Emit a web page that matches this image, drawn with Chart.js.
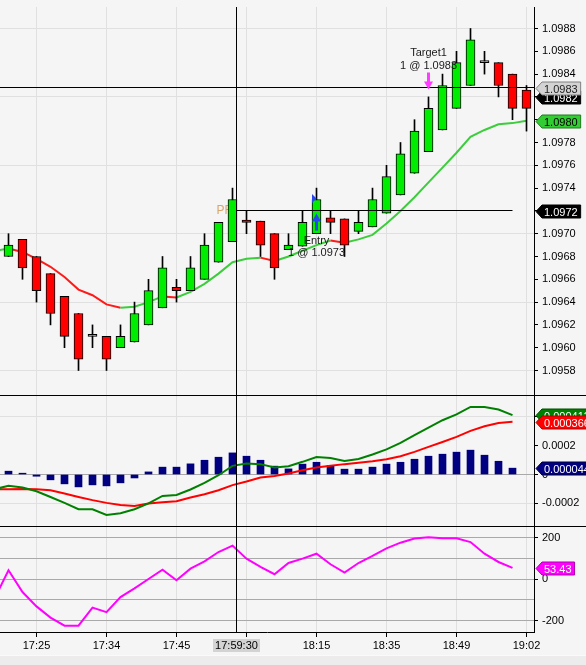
<!DOCTYPE html>
<html>
<head>
<meta charset="utf-8">
<title>EURUSD candles with MACD and CCI</title>
<script src="https://cdn.jsdelivr.net/npm/chart.js@4.4.1/dist/chart.umd.min.js"></script>
<style>
  html, body { margin: 0; padding: 0; background: #f5f5f5; }
  #wrap { position: relative; width: 586px; height: 665px; overflow: hidden; }
  #strip { position: absolute; left: 0; top: 655px; width: 586px; height: 10px; background: #ececec; border-top: 1px solid #fafafa; }
  .pane { position: absolute; left: 0; width: 586px; }
  #pricePane { top: 0; height: 396px; }
  #macdPane { top: 396px; height: 131px; }
  #cciPane { top: 527px; height: 138px; }
</style>
</head>
<body>
<div id="wrap">
  <div id="strip"></div>
  <div class="pane" id="pricePane"><canvas id="priceChart"></canvas></div>
  <div class="pane" id="macdPane"><canvas id="macdChart"></canvas></div>
  <div class="pane" id="cciPane"><canvas id="cciChart"></canvas></div>
</div>
<script>
// bar 0 = first full candle on screen, indicator series start one bar earlier (bar -1)
const tickBars = [2, 7, 12, 17, 22, 27, 32, 37];
const timeLabels = ['17:25', '17:34', '17:45', '', '18:15', '18:35', '18:49', '19:02'];

const priceTicks = [1.0958, 1.0960, 1.0962, 1.0964, 1.0966, 1.0968, 1.0970, 1.0972,
  1.0974, 1.0976, 1.0978, 1.0980, 1.0982, 1.0984, 1.0986, 1.0988];
const macdTicks = [-0.0002, 0, 0.0002, 0.0004];
const cciTicks = [-200, -100, 0, 100, 200];

const openP = [1.0968, 1.09695, 1.0968, 1.09665, 1.09645, 1.0963, 1.0961, 1.0961, 1.0960, 1.09605,
  1.0962, 1.09635, 1.09653, 1.0965, 1.0966, 1.09675, 1.09693, 1.09712, 1.09711, 1.0970,
  1.09686, 1.09689, 1.0970, 1.09714, 1.09713, 1.09702, 1.09706, 1.09718, 1.09734, 1.09753,
  1.09772, 1.09791, 1.0981, 1.0983, 1.0985, 1.0985, 1.0984, 1.09826];
const highP = [1.0970, 1.09695, 1.0968, 1.09665, 1.09645, 1.0963, 1.0962, 1.0961, 1.0962, 1.0964,
  1.0966, 1.0968, 1.0966, 1.0968, 1.0970, 1.0971, 1.0974, 1.0972, 1.09711, 1.0970,
  1.0970, 1.0972, 1.0974, 1.0972, 1.09713, 1.0972, 1.0974, 1.0976, 1.0978, 1.0980,
  1.0982, 1.0984, 1.0986, 1.0988, 1.0986, 1.0985, 1.0984, 1.0983];
const lowP = [1.0968, 1.0966, 1.0964, 1.0962, 1.0960, 1.0958, 1.0960, 1.0958, 1.0960, 1.09605,
  1.0962, 1.09635, 1.0964, 1.0965, 1.0966, 1.09675, 1.09693, 1.0970, 1.0968, 1.0966,
  1.09686, 1.09689, 1.0970, 1.0970, 1.0968, 1.0970, 1.09706, 1.09718, 1.09734, 1.09753,
  1.09772, 1.09791, 1.0981, 1.0983, 1.0984, 1.0982, 1.0980, 1.0979];
const closeP = [1.0969, 1.0967, 1.0965, 1.0963, 1.0961, 1.0959, 1.0961, 1.0959, 1.0961, 1.0963,
  1.0965, 1.0967, 1.0965, 1.0967, 1.0969, 1.0971, 1.0973, 1.0971, 1.0969, 1.0967,
  1.0969, 1.0971, 1.0973, 1.0971, 1.0969, 1.0971, 1.0973, 1.0975, 1.0977, 1.0979,
  1.0981, 1.0983, 1.0985, 1.0987, 1.0985, 1.0983, 1.0981, 1.0981];

// moving average, from bar -1 to bar 37
const maLine = [1.09685, 1.09687, 1.09684, 1.09678, 1.09671, 1.09662, 1.09651, 1.09646, 1.09638, 1.09635,
  1.09636, 1.0964, 1.09645, 1.09644, 1.09649, 1.09656, 1.09665, 1.09675, 1.09678, 1.09679,
  1.09676, 1.0968, 1.09685, 1.0969, 1.09694, 1.09692, 1.09695, 1.09699, 1.09709, 1.0972,
  1.09732, 1.09745, 1.09758, 1.09771, 1.09785, 1.09791, 1.09796, 1.09797, 1.09799];

// MACD / signal / CCI from bar -1 to bar 36, histogram from bar 0 to bar 36
const macdLine = [-0.000102, -0.000079, -0.00009, -0.000116, -0.000156, -0.000197, -0.000241, -0.000241, -0.000281, -0.000269,
  -0.000241, -0.000201, -0.000149, -0.000142, -0.000104, -0.000058, -0.000005, 0.00006, 0.000076, 0.000072,
  0.000049, 0.000058, 0.000088, 0.000122, 0.000115, 0.000094, 0.000108, 0.000139, 0.000174, 0.000219,
  0.000273, 0.000326, 0.000377, 0.000417, 0.000469, 0.000469, 0.000451, 0.000412];
const signalLine = [-0.000104, -0.000102, -0.0001, -0.000102, -0.000109, -0.000132, -0.000156, -0.000178, -0.000197, -0.000211,
  -0.000218, -0.000201, -0.000192, -0.000185, -0.00016, -0.000137, -0.000109, -0.000074, -0.000049, -0.000021,
  -0.00001, 0.000007, 0.00003, 0.000049, 0.00006, 0.000072, 0.000081, 0.000092, 0.000106, 0.000127,
  0.000157, 0.000192, 0.000226, 0.000261, 0.000303, 0.000335, 0.000358, 0.000366];
const histogram = [0.000023, 0.000009, -0.000012, -0.000037, -0.000065, -0.000086, -0.000072, -0.000079, -0.000058, -0.000024,
  0.000018, 0.000051, 0.000051, 0.000074, 0.000099, 0.00012, 0.00015, 0.000127, 0.000099, 0.000058,
  0.000039, 0.000072, 0.000085, 0.000062, 0.000037, 0.000037, 0.000051, 0.000072, 0.000085, 0.000106,
  0.000127, 0.000141, 0.000155, 0.000169, 0.000134, 0.000092, 0.000044];
const cciLine = [-94, 42, -63, -132, -186, -225, -225, -138, -160, -87,
  -45, 0, 45, -6, 50, 85, 130, 161, 98, 58,
  23, 77, 98, 122, 71, 31, 77, 111, 148, 175,
  195, 201, 196, 196, 178, 122, 82, 53.43];

// crosshair and drawing objects
const crossBar = 16.2857;
const crossTime = '17:59:30';
const crossPrice = 1.09828;
const lastPrice = 1.0982;
const prLevel = 1.0972;
const prEndBar = 36;
const entryBar = 22, entryPrice = 1.0973;
const targetBar = 30, targetPrice = 1.0983;

const upColor = '#00ec00', downColor = '#ff0000';
const maUp = '#3ccd3c', maDown = '#ff1a1a';
const gridColor = '#e0e0e0', levelColor = '#a9a9a9';
const FONT = '"Liberation Sans", Arial, sans-serif';

Chart.defaults.font.family = FONT;
Chart.defaults.font.size = 11;
Chart.defaults.color = '#000';

const xMin = -8.5 / 14, xMax = (534 - 8.5) / 14;

function xScale(showLabels) {
  return {
    type: 'linear', min: xMin, max: xMax, offset: false,
    grid: { color: gridColor, offset: false, drawTicks: showLabels, tickLength: 5, tickColor: '#000' },
    border: { display: showLabels, color: '#000' },
    ticks: {
      display: showLabels, padding: 2, autoSkip: false, maxRotation: 0,
      callback: v => { const k = tickBars.indexOf(v); return k < 0 ? '' : timeLabels[k]; }
    },
    afterBuildTicks: s => { s.ticks = tickBars.map(v => ({ value: v })); },
    afterFit: s => { s.height = showLabels ? 33 : 0; s.paddingLeft = 0; s.paddingRight = 0; }
  };
}

function yScale(min, max, values, gridFn, labelFn, tickColorFn) {
  return {
    type: 'linear', position: 'right', min: min, max: max,
    grid: { color: gridFn, tickLength: 4, tickColor: tickColorFn || '#000' },
    border: { display: true, color: '#000' },
    ticks: { padding: 4, autoSkip: false, callback: labelFn },
    afterBuildTicks: s => { s.ticks = values.map(v => ({ value: v })); },
    afterFit: s => { s.width = 52; s.paddingTop = 0; s.paddingBottom = 0; }
  };
}

function baseOptions(padding, yCfg, showLabels) {
  return {
    responsive: true, maintainAspectRatio: false, animation: false, events: [],
    layout: { padding: padding },
    plugins: { legend: { display: false }, tooltip: { enabled: false } },
    scales: { x: xScale(showLabels), y: yCfg }
  };
}

function drawTag(ctx, x0, y, text, fill, stroke, textColor) {
  ctx.save();
  ctx.font = '11px ' + FONT;
  const w = ctx.measureText(text).width;
  const h = 13, x1 = x0 + 6, x2 = x1 + w + 5;
  y = Math.round(y) + 0.5;
  ctx.beginPath();
  ctx.moveTo(x0, y);
  ctx.lineTo(x1, y - h / 2);
  ctx.lineTo(x2, y - h / 2);
  ctx.lineTo(x2, y + h / 2);
  ctx.lineTo(x1, y + h / 2);
  ctx.closePath();
  ctx.fillStyle = fill;
  ctx.fill();
  ctx.strokeStyle = stroke;
  ctx.lineWidth = 1;
  ctx.stroke();
  ctx.fillStyle = textColor;
  ctx.textAlign = 'left';
  ctx.textBaseline = 'middle';
  ctx.fillText(text, x1 + 2, y + 1);
  ctx.restore();
}

// vertical arrow, dir = 1 points up, dir = -1 points down
function drawArrow(ctx, x, tipY, dir, color) {
  const headLen = 8, headHalf = 4.5, shaftHalf = 1.5, shaftLen = 9;
  ctx.save();
  ctx.fillStyle = color;
  ctx.beginPath();
  ctx.moveTo(x, tipY);
  ctx.lineTo(x + headHalf, tipY + dir * headLen);
  ctx.lineTo(x + shaftHalf, tipY + dir * headLen);
  ctx.lineTo(x + shaftHalf, tipY + dir * (headLen + shaftLen));
  ctx.lineTo(x - shaftHalf, tipY + dir * (headLen + shaftLen));
  ctx.lineTo(x - shaftHalf, tipY + dir * headLen);
  ctx.lineTo(x - headHalf, tipY + dir * headLen);
  ctx.closePath();
  ctx.fill();
  ctx.restore();
}

function hLine(ctx, y, x0, x1) {
  const yy = Math.floor(y) + 0.5;
  ctx.beginPath();
  ctx.moveTo(x0, yy);
  ctx.lineTo(x1, yy);
  ctx.stroke();
}

function vLine(ctx, x, y0, y1) {
  const xx = Math.floor(x) + 0.5;
  ctx.beginPath();
  ctx.moveTo(xx, y0);
  ctx.lineTo(xx, y1);
  ctx.stroke();
}

// separator under a pane, full width
const separator = {
  id: 'separator',
  afterDraw(chart) {
    const ctx = chart.ctx;
    ctx.save();
    ctx.strokeStyle = '#000';
    ctx.lineWidth = 1;
    hLine(ctx, chart.chartArea.bottom, 0, chart.width);
    ctx.restore();
  }
};

// vertical crosshair through every pane
const crosshair = {
  id: 'crosshair',
  afterDatasetsDraw(chart, args, opts) {
    const ctx = chart.ctx, a = chart.chartArea;
    ctx.save();
    ctx.strokeStyle = '#000';
    ctx.lineWidth = 1;
    vLine(ctx, chart.scales.x.getPixelForValue(crossBar), a.top - (opts.extraTop || 0), a.bottom);
    ctx.restore();
  }
};

const priceMarks = {
  id: 'priceMarks',
  beforeDatasetsDraw(chart) {
    const ctx = chart.ctx, x = chart.scales.x, y = chart.scales.y;
    ctx.save();
    ctx.font = '12px ' + FONT;
    ctx.fillStyle = '#d9a56e';
    ctx.textAlign = 'left';
    ctx.textBaseline = 'middle';
    ctx.fillText('PR', x.getPixelForValue(crossBar) - 20, y.getPixelForValue(prLevel));
    ctx.restore();
  },
  afterDatasetsDraw(chart) {
    const ctx = chart.ctx, x = chart.scales.x, y = chart.scales.y, a = chart.chartArea;
    ctx.save();
    ctx.strokeStyle = '#000';
    ctx.lineWidth = 1;
    hLine(ctx, y.getPixelForValue(prLevel), x.getPixelForValue(crossBar), x.getPixelForValue(prEndBar));
    hLine(ctx, y.getPixelForValue(crossPrice), a.left, a.right);

    // entry
    const ex = x.getPixelForValue(entryBar), ey = y.getPixelForValue(entryPrice);
    ctx.fillStyle = '#2846f0';
    ctx.beginPath();
    ctx.moveTo(ex - 4.5, ey - 5.5);
    ctx.lineTo(ex - 4.5, ey + 3.5);
    ctx.lineTo(ex, ey - 1);
    ctx.closePath();
    ctx.fill();
    drawArrow(ctx, ex, ey + 14, 1, '#2846f0');

    // target
    const tx = x.getPixelForValue(targetBar), ty = y.getPixelForValue(targetPrice);
    drawArrow(ctx, tx, ty + 4, -1, '#ff3cff');

    ctx.font = '11px ' + FONT;
    ctx.fillStyle = '#1a1a1a';
    ctx.textAlign = 'center';
    ctx.textBaseline = 'middle';
    ctx.fillText('Entry', ex, ey + 41);
    ctx.fillText('1 @ ' + entryPrice.toFixed(4), ex, ey + 53);
    ctx.fillText('Target1', tx, ty - 33);
    ctx.fillText('1 @ ' + targetPrice.toFixed(4), tx, ty - 20);
    ctx.restore();
  },
  afterDraw(chart) {
    const ctx = chart.ctx, y = chart.scales.y, x0 = chart.chartArea.right + 2;
    drawTag(ctx, x0, y.getPixelForValue(lastPrice), lastPrice.toFixed(4), '#000', '#000', '#fff');
    const ma = maLine[maLine.length - 1];
    drawTag(ctx, x0, y.getPixelForValue(ma), ma.toFixed(4), '#32cd32', '#1e7a1e', '#000');
    drawTag(ctx, x0, y.getPixelForValue(prLevel), prLevel.toFixed(4), '#000', '#000', '#fff');
    drawTag(ctx, x0, y.getPixelForValue(crossPrice), crossPrice.toFixed(4), '#d3d3d3', '#808080', '#222');
  }
};

const macdTags = {
  id: 'macdTags',
  afterDraw(chart) {
    const ctx = chart.ctx, y = chart.scales.y, x0 = chart.chartArea.right + 2;
    const m = macdLine[macdLine.length - 1], s = signalLine[signalLine.length - 1], h = histogram[histogram.length - 1];
    drawTag(ctx, x0, y.getPixelForValue(m), m.toFixed(6), '#008000', '#004d00', '#fff');
    drawTag(ctx, x0, y.getPixelForValue(s), s.toFixed(6), '#ff0000', '#b00000', '#fff');
    drawTag(ctx, x0, y.getPixelForValue(h), h.toFixed(6), '#000080', '#000040', '#fff');
  }
};

const cciTags = {
  id: 'cciTags',
  afterDraw(chart) {
    const ctx = chart.ctx, y = chart.scales.y, a = chart.chartArea;
    const c = cciLine[cciLine.length - 1];
    drawTag(ctx, a.right + 2, y.getPixelForValue(c), c.toFixed(2), '#ff00ff', '#b000b0', '#fff');

    // time box of the crosshair
    const cx = chart.scales.x.getPixelForValue(crossBar);
    ctx.save();
    ctx.font = '11px ' + FONT;
    const w = ctx.measureText(crossTime).width + 4;
    ctx.fillStyle = '#d3d3d3';
    ctx.fillRect(Math.round(cx - w / 2), a.bottom + 7, Math.round(w), 13);
    ctx.fillStyle = '#000';
    ctx.textAlign = 'center';
    ctx.textBaseline = 'middle';
    ctx.fillText(crossTime, cx, a.bottom + 14);
    ctx.restore();
  }
};

// ---- price pane ----
new Chart(document.getElementById('priceChart'), {
  type: 'bar',
  data: {
    datasets: [
      {
        type: 'line', label: 'MA',
        data: maLine.map((v, i) => ({ x: i - 1, y: v })),
        borderColor: maUp, borderWidth: 2, pointRadius: 0, tension: 0,
        segment: { borderColor: c => (c.p1.parsed.y >= c.p0.parsed.y ? maUp : maDown) },
        order: 3
      },
      {
        label: 'wick',
        data: highP.map((h, i) => ({ x: i, y: [lowP[i], h] })),
        backgroundColor: '#000', barThickness: 1, grouped: false, minBarLength: 1,
        order: 2
      },
      {
        label: 'body',
        data: openP.map((o, i) => ({ x: i, y: [o, closeP[i]] })),
        backgroundColor: openP.map((o, i) => (closeP[i] >= o ? upColor : downColor)),
        borderColor: '#000', borderWidth: 1, borderSkipped: false,
        barThickness: 9, minBarLength: 2, grouped: false,
        order: 1
      }
    ]
  },
  options: baseOptions({ top: 7, bottom: 1, left: 0, right: 0 },
    yScale(1.0958 - 24.5 / 114000, 1.0988 + 21.5 / 114000, priceTicks,
      c => (c.index % 3 === 0 ? gridColor : 'rgba(0,0,0,0)'),
      v => v.toFixed(4)), false),
  plugins: [priceMarks, crosshair, separator]
});

// ---- MACD pane ----
new Chart(document.getElementById('macdChart'), {
  type: 'bar',
  data: {
    datasets: [
      {
        type: 'line', label: 'MACD',
        data: macdLine.map((v, i) => ({ x: i - 1, y: v })),
        borderColor: '#008000', borderWidth: 2, pointRadius: 0, tension: 0, order: 1
      },
      {
        type: 'line', label: 'Avg',
        data: signalLine.map((v, i) => ({ x: i - 1, y: v })),
        borderColor: '#ff0000', borderWidth: 2, pointRadius: 0, tension: 0, order: 2
      },
      {
        label: 'Diff',
        data: histogram.map((v, i) => ({ x: i, y: v })),
        backgroundColor: '#000080', barThickness: 7, grouped: false, order: 3
      }
    ]
  },
  options: baseOptions({ top: 0, bottom: 1, left: 0, right: 0 },
    yScale(-51.5 / 144000, 78.5 / 144000, macdTicks,
      c => {
        const v = c.tick ? c.tick.value : 0;
        if (Math.abs(v) < 1e-9) return levelColor;
        if (Math.abs(v - 0.0002) < 1e-9) return 'rgba(0,0,0,0)';
        return gridColor;
      },
      v => (Math.abs(v) < 1e-9 ? '0' : v.toFixed(4))), false),
  plugins: [crosshair, separator, macdTags]
});

// ---- CCI pane ----
new Chart(document.getElementById('cciChart'), {
  type: 'line',
  data: {
    datasets: [
      {
        label: 'CCI',
        data: cciLine.map((v, i) => ({ x: i - 1, y: v })),
        borderColor: '#ff00ff', borderWidth: 2, pointRadius: 0, tension: 0
      }
    ]
  },
  options: baseOptions({ top: 0, bottom: 0, left: 0, right: 0 },
    yScale(-53 / 0.2075, 52 / 0.2075, cciTicks,
      () => levelColor,
      v => (v % 200 === 0 ? String(v) : ''),
      c => (c.tick && c.tick.value % 200 === 0 ? '#000' : 'rgba(0,0,0,0)')), true),
  plugins: [crosshair, cciTags]
});
</script>
</body>
</html>
